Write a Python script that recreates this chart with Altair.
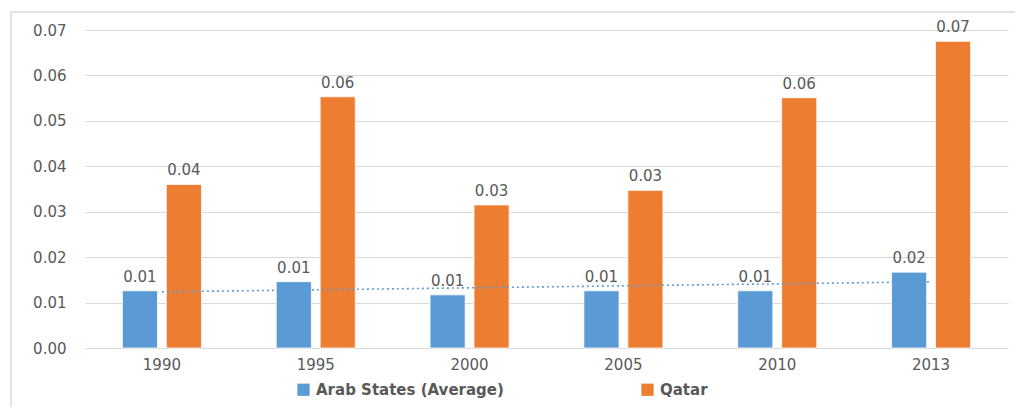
import json
import altair as alt
import pandas as pd

years = ["1990", "1995", "2000", "2005", "2010", "2013"]
arab = [0.0126, 0.0146, 0.0117, 0.0126, 0.0126, 0.0167]
qatar = [0.0360, 0.0553, 0.0315, 0.0347, 0.0551, 0.0675]
series_names = ["Arab States (Average)", "Qatar"]
colors = ["#5b9bd5", "#ed7d31"]

rows = []
for i, y in enumerate(years):
    rows.append({"year": y, "idx": i + 1, "series": series_names[0], "value": arab[i]})
    rows.append({"year": y, "idx": i + 1, "series": series_names[1], "value": qatar[i]})
df = pd.DataFrame(rows)

GRAY = "#595959"
FONT = "DejaVu Sans"

x_enc = alt.X("year:N", sort=years, title=None,
              scale=alt.Scale(paddingInner=0.486, paddingOuter=0.243),
              axis=alt.Axis(labelAngle=0, labelPadding=9, labelFontSize=15, labelColor=GRAY,
                            labelFont=FONT, ticks=False, domain=False, grid=False))
y_enc = alt.Y("value:Q", title=None,
              scale=alt.Scale(domain=[0, 0.07], nice=False),
              axis=alt.Axis(values=[0, 0.01, 0.02, 0.03, 0.04, 0.05, 0.06, 0.07], format=".2f",
                            labelPadding=19, labelFontSize=15, labelColor=GRAY, labelFont=FONT,
                            ticks=False, domain=False, gridColor="#d9d9d9", gridWidth=1.2))
xoff = alt.XOffset("series:N", sort=series_names,
                   scale=alt.Scale(paddingInner=0.2, paddingOuter=0))
color_enc = alt.Color("series:N", sort=series_names,
                      scale=alt.Scale(domain=series_names, range=colors),
                      legend=alt.Legend(title=None, orient="none", direction="horizontal",
                                        legendX=211, legendY=352, symbolType="square",
                                        symbolSize=150, symbolStrokeWidth=0, labelFontSize=15,
                                        labelFontWeight="bold", labelColor=GRAY, labelFont=FONT,
                                        labelLimit=0, columnPadding=136, labelOffset=5))

base = alt.Chart(df)

bars = base.mark_bar(stroke="white", strokeWidth=0.8).encode(
    x=x_enc, y=y_enc, xOffset=xoff, color=color_enc)

labels = base.mark_text(baseline="bottom", dy=-6, fontSize=15, color=GRAY, font=FONT).encode(
    x=alt.X("year:N", sort=years), y="value:Q", xOffset=xoff,
    text=alt.Text("value:Q", format=".2f"))

year_lookup = json.dumps(years)
trend = base.transform_filter(
    alt.datum.series == series_names[0]
).transform_regression(
    "idx", "value", method="linear"
).transform_calculate(
    year=f"{year_lookup}[round(datum.idx) - 1]"
).mark_line(color="#5b9bd5", strokeDash=[2, 3], strokeWidth=1.6).encode(
    x=alt.X("year:N", sort=years), y="value:Q")

frame = alt.Chart(pd.DataFrame({"a": [0]})).mark_rect(
    fill=None, stroke="#d9d9d9", strokeWidth=1.5).encode(
    x=alt.value(-74), x2=alt.value(1000), y=alt.value(-18), y2=alt.value(450))

chart = alt.layer(frame, bars, trend, labels).properties(
    width=923, height=318,
    background="white",
    autosize=alt.AutoSizeParams(type="none"),
    padding={"left": 77, "top": 22, "right": 7, "bottom": 59},
).configure_view(stroke=None)

chart.save("out.html", embed_options={"renderer": "svg", "actions": False})
